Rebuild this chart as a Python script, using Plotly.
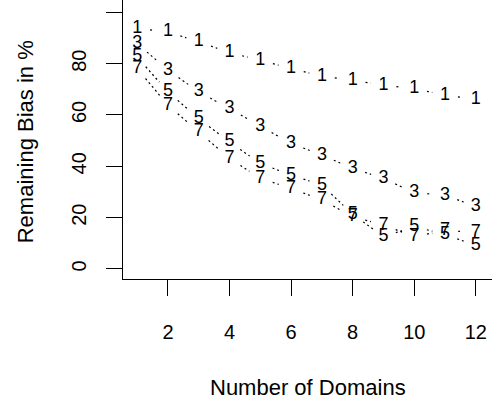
import math
import plotly.graph_objects as go

# ---- data ----
domains = list(range(1, 13))
bias_1 = [93.7, 92.4, 88.5, 84.3, 81.3, 78.1, 75.1, 73.5, 71.6, 70.3, 67.7, 66.1]
bias_3 = [87.8, 77.5, 69.0, 62.5, 55.7, 48.9, 44.4, 39.2, 35.3, 29.7, 28.8, 24.3]
bias_5 = [82.6, 69.0, 58.6, 49.5, 41.1, 36.6, 32.7, 21.3, 12.6, 16.5, 13.5, 9.1]
bias_7 = [78.1, 63.8, 53.4, 43.1, 35.3, 31.4, 26.9, 20.4, 17.1, 12.6, 15.0, 14.3]
series_labels = ["1", "3", "5", "7"]
series_values = [bias_1, bias_3, bias_5, bias_7]
x_ticks = [2, 4, 6, 8, 10, 12]
y_ticks = [0, 20, 40, 60, 80, 100]
y_ticktext = ["0", "20", "40", "60", "80", ""]

# ---- geometry ----
W, H = 492, 405
ML, MR, MT, MB = 123, 0, 0, 126
PW, PH = W - ML - MR, H - MT - MB
XR = [0.54, 12.525]
YR = [-3.9, 104.8]
px_x = PW / (XR[1] - XR[0])
px_y = PH / (YR[1] - YR[0])
GAP = 13.0  # pixel gap around each plotted character (R type="b")

FONT = "Liberation Sans, Arial, sans-serif"

fig = go.Figure()

# dotted connecting segments with gaps (as in R type="b")
for vals in series_values:
    sx, sy = [], []
    for i in range(len(domains) - 1):
        x0, y0, x1, y1 = domains[i], vals[i], domains[i + 1], vals[i + 1]
        dxp = (x1 - x0) * px_x
        dyp = (y1 - y0) * px_y
        L = math.hypot(dxp, dyp)
        if L <= 2 * GAP:
            continue
        f = GAP / L
        sx += [x0 + (x1 - x0) * f, x1 - (x1 - x0) * f, None]
        sy += [y0 + (y1 - y0) * f, y1 - (y1 - y0) * f, None]
    fig.add_trace(go.Scatter(x=sx, y=sy, mode="lines",
                             line=dict(color="black", width=1.2, dash="2px,3px"),
                             hoverinfo="skip", showlegend=False))

# character symbols
for lab, vals in zip(series_labels, series_values):
    fig.add_trace(go.Scatter(x=domains, y=vals, mode="text",
                             text=[lab] * len(domains),
                             textposition="middle center",
                             textfont=dict(family=FONT, size=18, color="black"),
                             showlegend=False))

fig.update_layout(
    width=W, height=H, autosize=False,
    margin=dict(l=ML, r=MR, t=MT, b=MB, pad=0),
    plot_bgcolor="white", paper_bgcolor="white",
    font=dict(family=FONT, color="black"),
    xaxis=dict(range=XR, showgrid=False, zeroline=False,
               showline=True, linecolor="black", linewidth=1,
               ticks="outside", ticklen=16, tickwidth=1, tickcolor="black",
               tickvals=x_ticks, ticktext=[str(v) for v in x_ticks],
               tickfont=dict(family=FONT, size=20, color="black"),
               ticklabelstandoff=19),
    yaxis=dict(range=YR, showgrid=False, zeroline=False,
               showline=True, linecolor="black", linewidth=1,
               ticks="outside", ticklen=16, tickwidth=1, tickcolor="black",
               tickvals=y_ticks, ticktext=y_ticktext, tickangle=-90,
               tickfont=dict(family=FONT, size=20, color="black"),
               ticklabelstandoff=12),
    annotations=[
        dict(text="Number of Domains", x=0.5, y=0, xref="paper", yref="paper",
             xanchor="center", yanchor="middle", yshift=-108, showarrow=False,
             font=dict(family=FONT, size=22, color="black")),
        dict(text="Remaining Bias in %", x=0, y=0.49, xref="paper", yref="paper",
             xanchor="center", yanchor="middle", xshift=-98, textangle=-90,
             showarrow=False, font=dict(family=FONT, size=22, color="black")),
    ],
)

fig.write_html("out.html")
